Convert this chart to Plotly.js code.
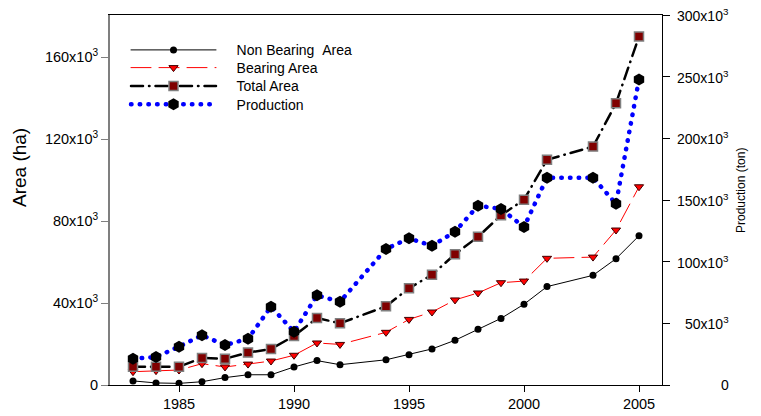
<!DOCTYPE html>
<html>
<head>
<meta charset="utf-8">
<script src="https://cdn.plot.ly/plotly-3.0.1.min.js"></script>
<style>
html,body{margin:0;padding:0;background:#fff;}
#chart{width:761px;height:416px;}
.js-line{stroke-linecap:round;}
</style>
</head>
<body>
<div id="chart"></div>
<script>
const years = [1983,1984,1985,1986,1987,1988,1989,1990,1991,1992,1994,1995,1996,1997,1998,1999,2000,2001,2003,2004,2005];
const nonBearing = [2000,1000,800,1600,3600,5000,5000,8800,11900,9900,12300,14800,17600,21800,27200,32500,39400,48000,53500,61600,72800];
const bearing = [6500,7000,7300,10400,8800,10200,11700,14500,20500,19800,25700,32000,35600,41500,44900,49900,50700,61800,62400,75600,96700];
const totalArea = [8900,8900,8900,13200,12800,15800,17600,23900,32700,30100,38400,47200,53800,63800,72300,82800,90400,109900,116300,137400,170000];
const production = [21300,22700,31100,40300,32400,37500,63500,43200,72700,67500,110300,118900,112900,124300,145400,142700,128100,168100,168100,147000,247700];

const seriesNames = ['Non Bearing\u00a0\u00a0Area','Bearing Area','Total Area','Production'];
const xTickVals = [1985,1990,1995,2000,2005];
const xTickText = ['1985','1990','1995','2000','2005'];
const yTickVals = [0,40000,80000,120000,160000];
const yTickText = ['0','40x10<sup>3</sup>','80x10<sup>3</sup>','120x10<sup>3</sup>','160x10<sup>3</sup>'];
const y2TickVals = [0,50000,100000,150000,200000,250000,300000];
const y2TickText = ['0','50x10<sup>3</sup>','100x10<sup>3</sup>','150x10<sup>3</sup>','200x10<sup>3</sup>','250x10<sup>3</sup>','300x10<sup>3</sup>'];
const leftTitle = 'Area (ha)';
const rightTitle = 'Production (ton)';

const FONT = 'Arial, "Liberation Sans", sans-serif';
const PAD = '\u00a0\u00a0\u00a0\u00a0';

const traces = [
  {x: years, y: nonBearing, name: PAD + seriesNames[0], type: 'scatter', mode: 'lines+markers', legend: 'legend',
   line: {color: '#000000', width: 1},
   marker: {symbol: 'circle', size: 7, color: '#000000'}},
  {x: years, y: bearing, name: PAD + seriesNames[1], type: 'scatter', mode: 'lines+markers', legend: 'legend2',
   line: {color: '#ff0000', width: 1, dash: '20px,8px'},
   marker: {symbol: 'triangle-down', size: 8, color: '#ff0000', line: {color: '#400000', width: 1}}},
  {x: years, y: totalArea, name: PAD + seriesNames[2], type: 'scatter', mode: 'lines+markers', legend: 'legend3',
   line: {color: '#000000', width: 2.5, dash: '12px,6px,0.5px,6px'},
   marker: {symbol: 'square', size: 9, color: '#800000', line: {color: '#7f7f7f', width: 1.5}}},
  {x: years, y: production, name: PAD + seriesNames[3], type: 'scatter', mode: 'lines+markers', yaxis: 'y2', legend: 'legend4',
   line: {color: '#0000ff', width: 4.5, dash: '0.5px,8.2px'},
   marker: {symbol: 'hexagon', size: 12, color: '#000000'}}
];

const annotations = y2TickVals.map((v, i) => ({
  xref: 'paper', yref: 'y2', x: (731 - 110) / 552, y: v, xanchor: 'right', yanchor: 'middle',
  text: y2TickText[i], showarrow: false, font: {family: FONT, size: 14, color: '#000'}
}));
annotations.push({xref: 'paper', yref: 'paper', x: (19 - 110) / 552, y: (385 - 168) / 370,
  xanchor: 'center', yanchor: 'middle', textangle: -90, text: leftTitle, showarrow: false,
  font: {family: FONT, size: 19, color: '#000'}});
annotations.push({xref: 'paper', yref: 'paper', x: (741 - 110) / 552, y: (385 - 191) / 370,
  xanchor: 'center', yanchor: 'middle', textangle: -90, text: rightTitle, showarrow: false,
  font: {family: FONT, size: 12, color: '#000'}});

function legendAt(centerY) {
  return {x: (126 - 110) / 552, y: (385 - (centerY - 14)) / 370, xanchor: 'left', yanchor: 'top',
          bgcolor: 'rgba(0,0,0,0)', borderwidth: 0, itemwidth: 85,
          font: {family: FONT, size: 14, color: '#000'}};
}

const layout = {
  width: 761, height: 416,
  margin: {l: 110, r: 99, t: 15, b: 31, pad: 0},
  paper_bgcolor: '#ffffff', plot_bgcolor: '#ffffff',
  font: {family: FONT, size: 14, color: '#000'},
  showlegend: true,
  legend: legendAt(48.3),
  legend2: legendAt(66),
  legend3: legendAt(84.3),
  legend4: legendAt(102.7),
  xaxis: {range: [1982, 2006], tickmode: 'array', tickvals: xTickVals, ticktext: xTickText,
          showgrid: false, zeroline: false, showline: true, linecolor: '#000', linewidth: 1, mirror: true,
          ticks: 'outside', ticklen: 6, tickcolor: '#000', tickfont: {family: FONT, size: 14.5}},
  yaxis: {range: [0, 180500], tickmode: 'array', tickvals: yTickVals, ticktext: yTickText,
          showgrid: false, zeroline: false, showline: true, linecolor: '#7f7f7f', linewidth: 2,
          ticks: 'outside', ticklen: 7, tickcolor: '#7f7f7f', tickfont: {family: FONT, size: 14.5}},
  yaxis2: {range: [0, 300000], overlaying: 'y', side: 'right', tickmode: 'array', tickvals: y2TickVals,
           showticklabels: false, showgrid: false, zeroline: false, showline: true, linecolor: '#000', linewidth: 1,
           ticks: 'outside', ticklen: 7, tickcolor: '#000'},
  annotations: annotations
};

Plotly.newPlot('chart', traces, layout, {displayModeBar: false, staticPlot: true});
</script>
</body>
</html>
